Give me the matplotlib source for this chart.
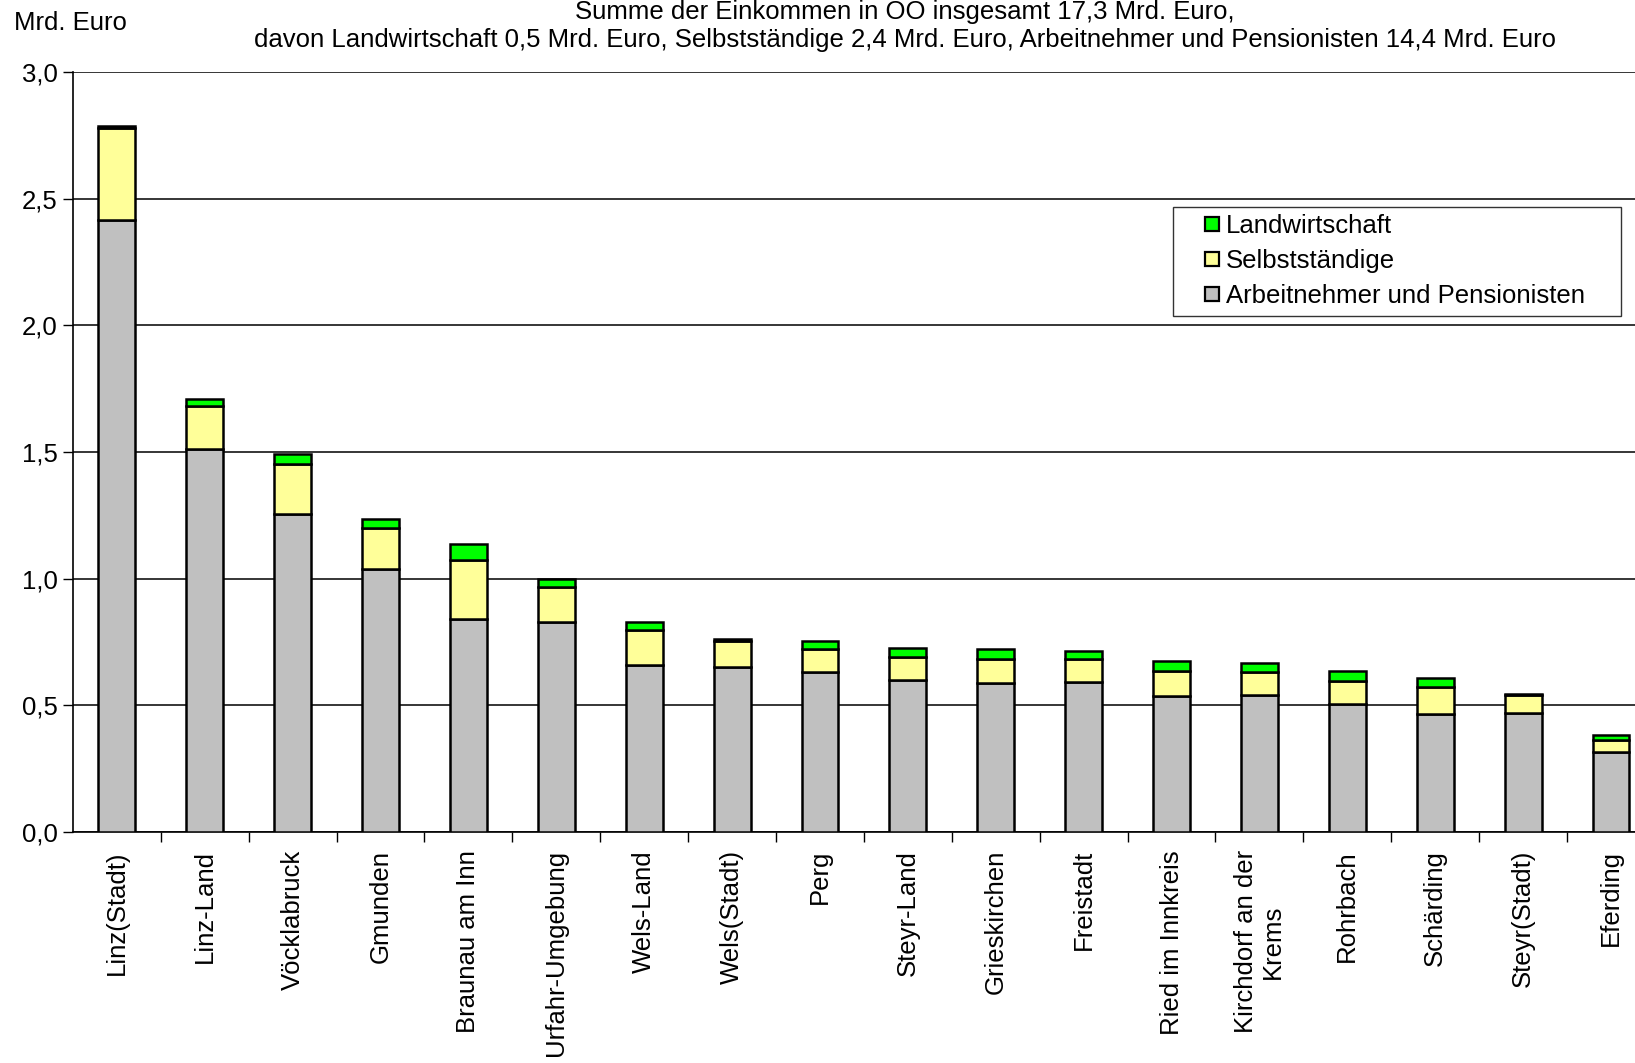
import matplotlib.pyplot as plt
from matplotlib.lines import Line2D
from matplotlib.ticker import FixedLocator, FuncFormatter

plt.rcParams['font.family'] = ['Liberation Sans', 'DejaVu Sans']

bezirke = ['Linz(Stadt)', 'Linz-Land', 'Vöcklabruck', 'Gmunden', 'Braunau am Inn',
           'Urfahr-Umgebung', 'Wels-Land', 'Wels(Stadt)', 'Perg', 'Steyr-Land',
           'Grieskirchen', 'Freistadt', 'Ried im Innkreis', 'Kirchdorf an der\nKrems',
           'Rohrbach', 'Schärding', 'Steyr(Stadt)', 'Eferding']

# Mrd. Euro
arbeitnehmer = [2.415, 1.510, 1.255, 1.037, 0.840, 0.827, 0.658, 0.650, 0.630,
                0.600, 0.588, 0.593, 0.535, 0.539, 0.506, 0.465, 0.469, 0.316]
selbststaendige = [0.362, 0.170, 0.198, 0.161, 0.234, 0.140, 0.140, 0.103, 0.094,
                   0.090, 0.095, 0.090, 0.099, 0.091, 0.091, 0.107, 0.070, 0.047]
landwirtschaft = [0.008, 0.029, 0.041, 0.037, 0.062, 0.033, 0.029, 0.008, 0.029,
                  0.037, 0.041, 0.033, 0.041, 0.037, 0.037, 0.037, 0.005, 0.020]

title_1 = 'Summe der Einkommen in OÖ insgesamt 17,3 Mrd. Euro,'
title_2 = ('davon Landwirtschaft 0,5 Mrd. Euro, Selbstständige 2,4 Mrd. Euro, '
           'Arbeitnehmer und Pensionisten 14,4 Mrd. Euro')

fs = 18.5
colors = {'Landwirtschaft': '#00ff00', 'Selbstständige': '#ffff99',
          'Arbeitnehmer und Pensionisten': '#c0c0c0'}

fig = plt.figure(figsize=(16.35, 10.63), dpi=100)
ax = fig.add_axes([0.0446, 0.2173, 0.9676, 0.715])

x = list(range(len(bezirke)))
w = 0.42
bottom2 = arbeitnehmer
bottom3 = [a + s for a, s in zip(arbeitnehmer, selbststaendige)]

ax.bar(x, arbeitnehmer, w, color=colors['Arbeitnehmer und Pensionisten'],
       edgecolor='black', linewidth=1.8, zorder=3)
ax.bar(x, selbststaendige, w, bottom=bottom2, color=colors['Selbstständige'],
       edgecolor='black', linewidth=1.8, zorder=3)
ax.bar(x, landwirtschaft, w, bottom=bottom3, color=colors['Landwirtschaft'],
       edgecolor='black', linewidth=1.8, zorder=3)

ax.set_xlim(-0.5, len(bezirke) - 0.5)
ax.set_ylim(0, 3.0)
ax.set_yticks([0, 0.5, 1.0, 1.5, 2.0, 2.5, 3.0])
ax.yaxis.set_major_formatter(FuncFormatter(lambda v, p: f'{v:.1f}'.replace('.', ',')))
ax.yaxis.grid(True, color='black', linewidth=1.1, zorder=0)
ax.set_axisbelow(True)

ax.set_xticks(x)
ax.set_xticklabels(bezirke, rotation=90, ha='center', va='top', multialignment='center')
ax.xaxis.set_minor_locator(FixedLocator([i + 0.5 for i in x]))
ax.tick_params(axis='x', which='major', length=0, pad=13, labelsize=fs)
ax.tick_params(axis='x', which='minor', length=7, width=1, direction='out')
ax.tick_params(axis='y', length=7, width=1, direction='out', pad=4, labelsize=fs)

for side in ['top', 'right']:
    ax.spines[side].set_visible(False)
ax.spines['left'].set_linewidth(1.2)
ax.spines['bottom'].set_linewidth(1.2)

# trailing spaces give the wide right margin of the original legend box
legend_labels = [k + '    ' if k.startswith('Arbeit') else k for k in colors]
handles = [Line2D([], [], linestyle='none', marker='s', markersize=10.5,
                  markerfacecolor=c, markeredgecolor='black', markeredgewidth=1.6)
           for c in colors.values()]
leg = fig.legend(handles, legend_labels, loc='upper right',
                 bbox_to_anchor=(0.9915, 0.8055), fontsize=fs, frameon=True,
                 fancybox=False, edgecolor='black', handlelength=2.45,
                 handletextpad=-0.68, borderpad=0.3, labelspacing=0.42,
                 borderaxespad=0)
leg.get_frame().set_linewidth(1.0)

fig.text(0.0086, 1 - 23 / 1063, 'Mrd. Euro', fontsize=fs, ha='left', va='center')
fig.text(0.5535, 1 - 10 / 1063, title_1, fontsize=fs, ha='center', va='center')
fig.text(0.5535, 1 - 40 / 1063, title_2, fontsize=fs, ha='center', va='center')

fig.savefig('out.png', dpi=100)
